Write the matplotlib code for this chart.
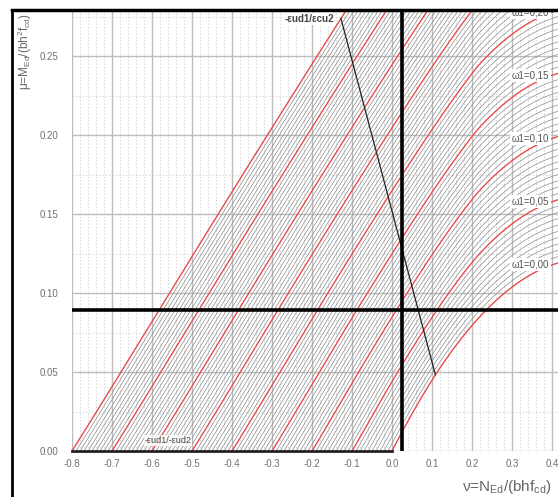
import numpy as np
import matplotlib
matplotlib.use("Agg")
import matplotlib.pyplot as plt
from matplotlib.lines import Line2D

plt.rcParams["font.family"] = ["Liberation Sans", "DejaVu Sans"]
plt.rcParams["mathtext.fontset"] = "custom"
plt.rcParams["mathtext.rm"] = "Liberation Sans"
plt.rcParams["mathtext.it"] = "Liberation Sans"

# section data (symmetric reinforcement, d'/h = 0.1)
cover = 0.1
eps_cu2 = 0.0035
eps_c2 = 0.002
eps_yd = 0.00217
eps_ud = 0.02

# mechanical ratios of the labelled (red) curves and grey subdivisions between them
omega_main = [0.00, 0.05, 0.10, 0.15, 0.20, 0.25, 0.30, 0.35, 0.40]
n_sub = 10
omega_labels = ["ω1=0,00", "ω1=0,05", "ω1=0,10", "ω1=0,15", "ω1=0,20"]

# design point
nu_ed = 0.025
mu_ed = 0.089

x_ticks = [-0.8, -0.7, -0.6, -0.5, -0.4, -0.3, -0.2, -0.1, 0.0, 0.1, 0.2, 0.3, 0.4]
y_ticks = [0.00, 0.05, 0.10, 0.15, 0.20, 0.25]

d = 1.0 - cover
y_f = (np.arange(400) + 0.5) / 400.0
dy = 1.0 / 400.0


def strain_states():
    # pivot A: bottom bar at -eps_ud, top fibre from -eps_ud to eps_cu2
    top_a = np.concatenate([[-eps_ud], np.linspace(0.0, eps_cu2, 160)])
    bot_a = np.full_like(top_a, -eps_ud)
    # pivot B: top fibre at eps_cu2, neutral axis going down
    x_ab = d * eps_cu2 / (eps_cu2 + eps_ud)
    x = np.linspace(x_ab, 1.2, 260)[1:]
    top_b = np.full_like(x, eps_cu2)
    bot_b = eps_cu2 * (x - d) / x
    return np.concatenate([top_a, top_b]), np.concatenate([bot_a, bot_b])


def section_parts(eps_top, eps_bot):
    eps = eps_top[:, None] + (eps_bot - eps_top)[:, None] * y_f[None, :] / d
    e = np.clip(eps, 0.0, None)
    sig = np.where(e < eps_c2, 1.0 - (1.0 - e / eps_c2) ** 2, 1.0)
    sig[eps <= 0] = 0.0
    nu_c = sig.sum(axis=1) * dy
    mu_c = (sig * (0.5 - y_f[None, :])).sum(axis=1) * dy
    e2 = eps_top + (eps_bot - eps_top) * cover / d
    s2 = np.clip(e2 / eps_yd, -1, 1)
    s1 = np.clip(eps_bot / eps_yd, -1, 1)
    return nu_c, mu_c, s1, s2


def curve(omega, parts):
    nu_c, mu_c, s1, s2 = parts
    arm = 0.5 - cover
    return nu_c + omega * (s1 + s2), mu_c + omega * arm * (s2 - s1)


eps_top, eps_bot = strain_states()
parts = section_parts(eps_top, eps_bot)
i_ab = 160  # index of the -eps_ud / eps_cu2 state

fig = plt.figure(figsize=(5.58, 4.97), dpi=100)
ax = fig.add_axes([72 / 558, 46 / 497, 1 - 72 / 558, 442.4 / 497])
ax.set_xlim(-0.8, 0.415)
ax.set_ylim(0.0, 0.28)

ax.set_xticks(x_ticks)
ax.set_xticklabels([f"{v:.1f}" for v in x_ticks])
ax.set_yticks(y_ticks)
ax.set_yticklabels([f"{v:.2f}" for v in y_ticks])
ax.set_xticks(np.arange(-0.8, 0.42, 0.02), minor=True)
ax.set_yticks(np.arange(0.0, 0.28, 0.025), minor=True)
ax.tick_params(which="both", length=0, labelsize=7, labelcolor="#707070")
ax.tick_params(axis="x", pad=6)
ax.tick_params(axis="y", pad=10)
ax.grid(which="major", color="#bdbdbd", lw=1.0)
ax.grid(which="minor", color="#c8c8c8", lw=0.6, ls=(0, (1.5, 2.5)))
for s in ax.spines.values():
    s.set_visible(False)

# grey curves
step = 0.05 / n_sub
for w0 in omega_main[:-1]:
    for k in range(1, n_sub):
        nu, mu = curve(w0 + k * step, parts)
        ax.plot(nu, mu, color="#8c8c8c", lw=0.5, zorder=2)

# red curves
for w in omega_main:
    nu, mu = curve(w, parts)
    ax.plot(nu, mu, color="#e64b4b", lw=1.0, zorder=3)

# curve labels on the right
for w, lab in zip(omega_main, omega_labels):
    nu, mu = curve(w, parts)
    ax.text(0.393, np.interp(0.40, nu, mu), lab, ha="right", va="center",
            fontsize=7, color="#555555", zorder=6, clip_on=True,
            bbox=dict(boxstyle="square,pad=0.15", fc="white", ec="none"))

# strain limit loci
ab = [curve(w, parts) for w in (omega_main[0], omega_main[-1])]
ax.plot([ab[0][0][i_ab], ab[1][0][i_ab]], [ab[0][1][i_ab], ab[1][1][i_ab]],
        color="#222222", lw=0.9, zorder=5)
ten = [curve(w, parts) for w in (omega_main[-1], omega_main[0])]
ax.plot([ten[0][0][0], ten[1][0][0]], [ten[0][1][0], ten[1][1][0]],
        color="#222222", lw=2.0, zorder=5, clip_on=False)
ax.text(-0.145, 0.2735, "-εud1/εcu2", ha="right", va="center", fontsize=7,
        fontweight="bold", color="#444444", zorder=6,
        bbox=dict(boxstyle="square,pad=0.1", fc="white", ec="none"))
ax.text(-0.56, 0.0068, "-εud1/-εud2", ha="center", va="center", fontsize=6.5,
        color="#444444", zorder=6,
        bbox=dict(boxstyle="square,pad=0.1", fc="white", ec="none", alpha=0.8))

# design point
ax.axvline(nu_ed, color="black", lw=2.6, zorder=7)
ax.axhline(mu_ed, color="black", lw=2.6, zorder=7)

fig.text(25 / 558, 1 - 52 / 497, r"μ=M$_{Ed}$/(bh$^2$f$_{cd}$)", rotation=90,
         ha="center", va="center", fontsize=8.5, color="#666666")
fig.text(552 / 558, 1 - 487 / 497, r"ν=N$_{Ed}$/(bhf$_{cd}$)", ha="right",
         va="center", fontsize=11, color="#666666")

# outer frame
fig.add_artist(Line2D([12 / 558, 1.0], [1 - 10 / 497, 1 - 10 / 497],
                      transform=fig.transFigure, color="black", lw=2.5))
fig.add_artist(Line2D([12 / 558, 12 / 558], [0.0, 1 - 10 / 497],
                      transform=fig.transFigure, color="black", lw=2.0))

fig.savefig("out.png", dpi=100)
